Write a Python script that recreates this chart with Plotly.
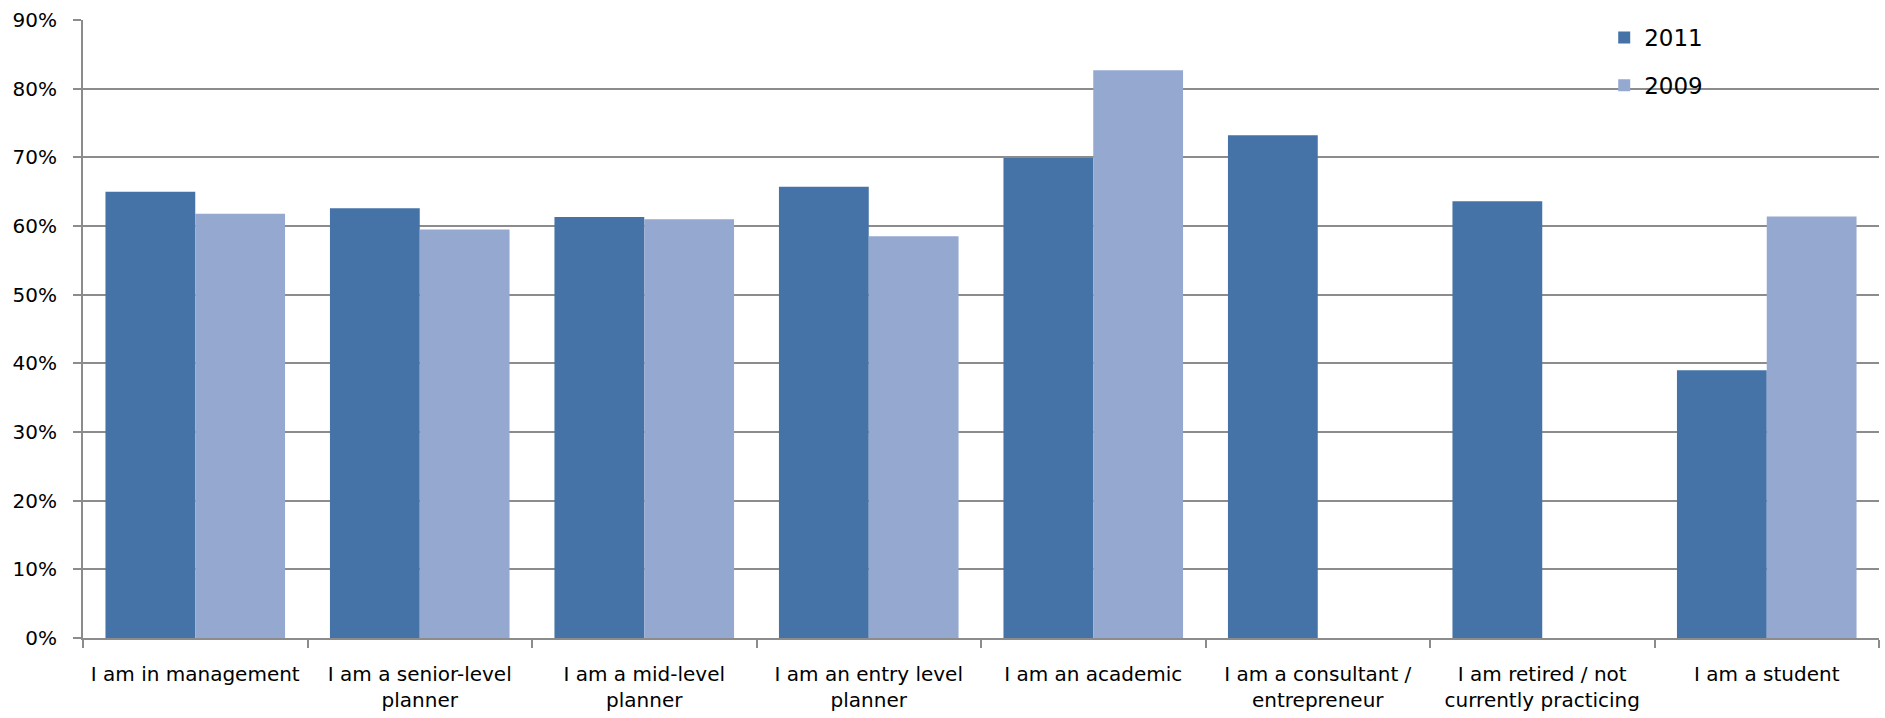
import plotly.graph_objects as go

categories = [
    "I am in management",
    "I am a senior-level<br>planner",
    "I am a mid-level<br>planner",
    "I am an entry level<br>planner",
    "I am an academic",
    "I am a consultant /<br>entrepreneur",
    "I am retired / not<br>currently practicing",
    "I am a student",
]
values_2011 = [0.650, 0.626, 0.613, 0.657, 0.699, 0.732, 0.636, 0.390]
values_2009 = [0.618, 0.595, 0.610, 0.585, 0.827, None, None, 0.614]
y_ticks = [0, 0.1, 0.2, 0.3, 0.4, 0.5, 0.6, 0.7, 0.8, 0.9]

FONT = "DejaVu Sans"

fig = go.Figure()
fig.add_trace(go.Bar(x=categories, y=values_2011, name="2011", legendgroup="a",
                     marker=dict(color="#4573a7", line=dict(width=0))))
fig.add_trace(go.Bar(x=categories, y=values_2009, name="2009", legendgroup="b",
                     marker=dict(color="#95a9d0", line=dict(width=0))))

fig.update_layout(
    width=1885, height=718,
    margin=dict(l=83, r=6, t=20, b=80),
    plot_bgcolor="white", paper_bgcolor="white",
    barmode="group", bargap=0.2, bargroupgap=0,
    font=dict(family=FONT, size=20, color="black"),
    legend=dict(x=0.847, y=1.0065, xanchor="left", yanchor="top",
                bgcolor="rgba(0,0,0,0)", tracegroupgap=15,
                font=dict(family=FONT, size=23), itemwidth=30),
    showlegend=True,
)
fig.update_yaxes(
    range=[0, 0.9], tickvals=y_ticks, tickformat=".0%",
    showgrid=True, gridcolor="#8c8c8c", gridwidth=2,
    showline=True, linecolor="#8c8c8c", linewidth=2,
    ticks="outside", ticklen=8, tickcolor="#8c8c8c", tickwidth=2,
    zeroline=False, tickfont=dict(family=FONT, size=20),
    ticklabelstandoff=12, automargin=False,
)
fig.update_xaxes(
    showline=True, linecolor="#8c8c8c", linewidth=2,
    ticks="outside", ticklen=8, tickcolor="#8c8c8c", tickwidth=2,
    tickson="boundaries", showgrid=False,
    tickfont=dict(family=FONT, size=20),
    ticklabelstandoff=17, automargin=False,
)

fig.write_html("out.html", config={"displayModeBar": False},
               post_script="document.body.style.margin='0';")
